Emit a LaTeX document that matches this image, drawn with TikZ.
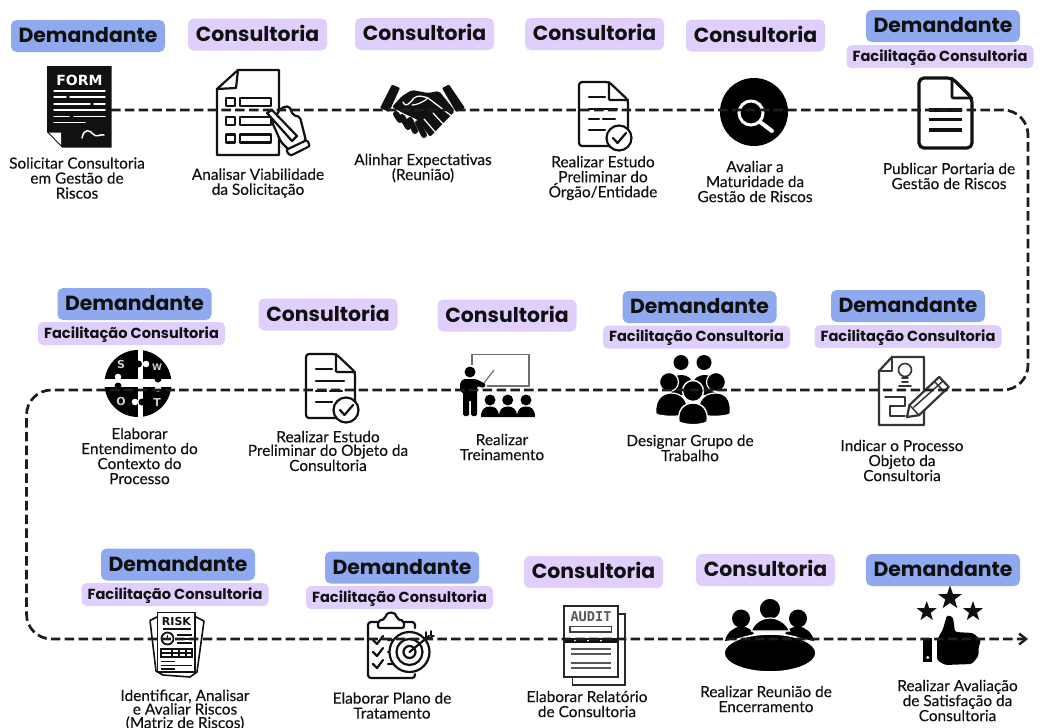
\documentclass[tikz,border=0pt]{standalone}
\usepackage{fontspec}
\setmainfont[FakeBold=0.2]{Lato}
\newfontfamily\badgefont{Poppins}
\newfontfamily\iconfont{DejaVu Sans}
\newfontfamily\iconmono{DejaVu Sans Mono}
\usetikzlibrary{arrows.meta,shapes.geometric}
\definecolor{ink}{HTML}{111111}
\definecolor{demcol}{HTML}{8FA9EE}
\definecolor{concol}{HTML}{E0CFFD}
\tikzset{
 badge/.style={rounded corners=5.5pt,inner sep=0pt,text=ink,font=\badgefont\bfseries\fontsize{20.4}{22}\selectfont,text height=14pt,text depth=1pt},
 demand/.style={badge,fill=demcol,minimum width=154pt,minimum height=32pt},
 consult/.style={badge,fill=concol,minimum width=139pt,minimum height=32pt},
 facil/.style={badge,fill=concol,minimum width=187pt,minimum height=23pt,rounded corners=5pt,font=\badgefont\bfseries\fontsize{14.6}{16}\selectfont,text height=10pt,text depth=1pt},
 caption/.style={align=center,inner sep=0pt,text=ink,font=\fontsize{15.4}{15}\selectfont},
 tight/.style={caption,font=\fontsize{15.4}{13.6}\selectfont},
 flow/.style={draw=ink!95,line width=2.7pt,dash pattern=on 9.5pt off 4.3pt,rounded corners=25pt},
 ol/.style={draw=ink,line width=2.2pt,line join=round,line cap=round},
 wl/.style={draw=white,line width=1.5pt,line cap=round},
 finger/.style={draw=ink,line width=6pt,line cap=round},
 starmark/.style={star,star points=5,star point ratio=2.5,fill=ink,inner sep=0pt},
 checkdoc/.pic={
  \draw[ol,fill=white,rounded corners=3pt] (30,0) -- (0,0) -- (0,64) -- (49,64) -- (49,18) -- cycle;
  \draw[ol,rounded corners=1pt] (30,0) -- (30,18) -- (49,18);
  \draw[ol] (10,15) -- (26,15) (10,27) -- (38,27) (10,37) -- (20,37) (24,37) -- (36,37) (10,48) -- (26,48);
  \draw[ol,fill=white] (40,56) circle (12.5);
  \draw[ol] (34,56) -- (38.5,61) -- (47,51);
 }
}
\begin{document}
\begin{tikzpicture}[x=1pt,y=-1pt]
\useasboundingbox (0,0) rectangle (1052,728);
\fill[white] (0,0) rectangle (1052,728);

% --- role badges ---
\node[demand] (d1) at (88,36) {Demandante};
\node[consult] (c2) at (257.5,34.5) {Consultoria};
\node[consult] (c3) at (424.5,34) {Consultoria};
\node[consult] (c4) at (594.5,34) {Consultoria};
\node[consult] (c5) at (755.5,35.5) {Consultoria};
\node[demand] (d6) at (943,26) {Demandante};
\node[facil] (f6) at (940,56.5) {Facilitação Consultoria};
\node[demand] (d11) at (134.5,304) {Demandante};
\node[facil] (f11) at (131.5,333.5) {Facilitação Consultoria};
\node[consult] (c10) at (328,314.5) {Consultoria};
\node[consult] (c9) at (507,315.5) {Consultoria};
\node[demand] (d8) at (699.5,307) {Demandante};
\node[facil] (f8) at (696.5,337) {Facilitação Consultoria};
\node[demand] (d7) at (908,306) {Demandante};
\node[facil] (f7) at (908,336.5) {Facilitação Consultoria};
\node[demand] (d12) at (178,564.5) {Demandante};
\node[facil] (f12) at (175,594.5) {Facilitação Consultoria};
\node[demand] (d13) at (402,567.5) {Demandante};
\node[facil] (f13) at (399.5,597.5) {Facilitação Consultoria};
\node[consult] (c14) at (593.5,572) {Consultoria};
\node[consult] (c15) at (765.5,570) {Consultoria};
\node[demand] (d16) at (943,570) {Demandante};

% --- captions ---
\node[caption] (t1) at (77,178) {Solicitar Consultoria\\em Gestão de\\Riscos};
\node[caption] (t2) at (258,183) {Analisar Viabilidade\\da Solicitação};
\node[caption] (t3) at (423,168) {Alinhar Expectativas\\(Reunião)};
\node[caption] (t4) at (603,178) {Realizar Estudo\\Preliminar do\\Órgão/Entidade};
\node[caption] (t5) at (755,181.5) {Avaliar a\\Maturidade da\\Gestão de Riscos};
\node[caption] (t6) at (949,176) {Publicar Portaria de\\Gestão de Riscos};
\node[caption] (t11) at (139.5,456) {Elaborar\\Entendimento do\\Contexto do\\Processo};
\node[tight] (t10) at (328,451) {Realizar Estudo\\Preliminar do Objeto da\\Consultoria};
\node[caption] (t9) at (502,447) {Realizar\\Treinamento};
\node[tight] (t8) at (690,448) {Designar Grupo de\\Trabalho};
\node[caption] (t7) at (902,460.5) {Indicar o Processo\\Objeto da\\Consultoria};
\node[tight] (t12) at (185,710) {Identificar, Analisar\\e Avaliar Riscos\\(Matriz de Riscos)};
\node[caption] (t13) at (392,705.5) {Elaborar Plano de\\Tratamento};
\node[caption] (t14) at (587,704) {Elaborar Relatório\\de Consultoria};
\node[caption] (t15) at (766,699) {Realizar Reunião de\\Encerramento};
\node[caption] (t16) at (957.5,700.5) {Realizar Avaliação\\de Satisfação da\\Consultoria};

% --- icon 1: form ---
\fill[ink] (47,66) -- (111.5,66) -- (111.5,147.5) -- (62,147.5) -- (47,132) -- cycle;
\fill[white] (49,132.5) -- (61,132.5) -- (61,145) -- cycle;
\node[text=white,inner sep=0pt,font=\iconfont\bfseries\fontsize{14}{14}\selectfont] (form) at (79.5,80) {FORM};
\draw[wl] (54,91) -- (105,91) (54,97) -- (66,97) (70,97) -- (105,97) (54,104) -- (90,104) (94,104) -- (105,104)
  (54,110) -- (105,110) (54,116.5) -- (69,116.5) (74,116.5) -- (105,116.5) (54,122.5) -- (85,122.5);
\draw[wl] (82,138) .. controls (84,128) and (90,130) .. (93,134) .. controls (96,138) and (100,134) .. (104,135);

% --- icon 2: form with hand ---
\draw[ol,fill=white] (238,70) -- (279,70) -- (279,155) -- (217,155) -- (217,89) -- cycle;
\draw[ol] (238,70) -- (236,88) -- (217,89);
\draw[ol] (226,98) rectangle (235,106) (240,98) rectangle (271,106)
  (226,117) rectangle (235,125) (240,117) rectangle (271,125)
  (226,134.5) rectangle (235,142.5) (240,134.5) rectangle (271,142.5);
\draw[ol,fill=white,rounded corners=2pt] (272,122) -- (281,108) -- (289,106) -- (293,115) -- (300,117) -- (306,141) -- (289,150) -- (281,142) -- cycle;
\draw[ol,fill=white] (267,113) -- (272,110) -- (297,136) -- (292,141) -- cycle;
\draw[ol,fill=white,rounded corners=2pt] (286,150) -- (307,140) -- (310,146) -- (290,156) -- cycle;

% --- icon 3: handshake ---
\fill[ink,rounded corners=1pt] (392,84.5) -- (400,88) -- (389,112) -- (380,108) -- cycle;
\fill[ink,rounded corners=1pt] (449,84.5) -- (442,88) -- (456,112) -- (465,108) -- cycle;
\fill[ink,rounded corners=2pt] (392,107) -- (402,96) -- (412,90) -- (428,93) -- (439,91) -- (455,111) -- (430,137) -- (418,120) -- (403,113) -- cycle;
\draw[finger] (396,114) -- (400,120);
\draw[finger] (402,117) -- (408,127);
\draw[finger] (410,120) -- (415,131);
\draw[finger] (418,123) -- (424,135);
\draw[white,line width=1.3pt,line cap=round,line join=round] (403,102) .. controls (406,108) and (409,104) .. (414,98) .. controls (418,95) and (422,96) .. (428,98) -- (453,117);
\draw[white,line width=1.2pt,line cap=round] (424,119) -- (436,133) (433,113) -- (444,125) (428,98) .. controls (422,103) and (416,105) .. (412,105);

% --- icon 4: document with check ---
\pic at (579,82) {checkdoc};

% --- icon 5: magnifier ---
\fill[black] (754,112) circle (34);
\draw[white,line width=3pt] (751,113) circle (12);
\draw[white,line width=4pt,line cap=round] (760,122) -- (772,131);

% --- icon 6: document ---
\draw[ol,line width=3.2pt,rounded corners=5pt] (952,78) -- (919,78) -- (919,148) -- (972,148) -- (972,98) -- cycle;
\draw[ol,line width=2.6pt,rounded corners=1pt] (952,78) -- (952,98) -- (972,98);
\draw[ol,line width=3.4pt,line cap=butt] (929,110) -- (962,110) (929,119.5) -- (962,119.5) (929,130) -- (962,130);

% --- icon 7: process document and pencil ---
\draw[ol,draw=ink!85] (892,357) -- (924,357) -- (924,425) -- (879,425) -- (879,371) -- cycle;
\draw[ol,draw=ink!85] (892,357) -- (892,371) -- (879,371);
\draw[ol,draw=ink!85,line width=1.6pt] (905,370) circle (6.5) (902,378) -- (908,378) (902,382) -- (908,382) (899,386) -- (911,386);
\draw[ol,draw=ink!85,line width=1.8pt] (885,397) -- (905,397) -- (905,406) -- (890,406) -- (890,416) -- (905,416);
\draw[ol,draw=ink!85,fill=white] (907,417) -- (909.5,405) -- (939.2,376.9) -- (948.8,387) -- (919,415.2) -- cycle;
\draw[ol,draw=ink!85,line width=1.5pt] (909.5,405) -- (919,415.2) (914,407) -- (943,381) (934.5,381.5) -- (944,391.5);

% --- icon 8: group ---
\fill[black] (681,362.5) circle (7.5) (704,362.5) circle (7.5);
\fill[black] (670,383) .. controls (672,372) and (692,372) .. (693,385) -- (693,395) -- (672,395) -- cycle;
\fill[black] (692,385) .. controls (694,372) and (714,372) .. (716,383) -- (714,395) -- (692,395) -- cycle;
\filldraw[black,draw=white,line width=1.2pt] (669,382) circle (9.5) (716,382) circle (9.5);
\filldraw[black,draw=white,line width=1.2pt] (656,414) .. controls (654,398) and (664,393) .. (671,393) .. controls (682,393) and (688,400) .. (688,414) .. controls (680,417) and (662,417) .. (656,414) -- cycle;
\filldraw[black,draw=white,line width=1.2pt] (698,414) .. controls (698,400) and (704,393) .. (716,393) .. controls (724,393) and (732,398) .. (730,414) .. controls (724,417) and (706,417) .. (698,414) -- cycle;
\filldraw[black,draw=white,line width=1.4pt] (693,391) circle (10.5);
\filldraw[black,draw=white,line width=1.4pt] (679,422) .. controls (677,410) and (684,403) .. (693,403) .. controls (702,403) and (709,410) .. (707,422) .. controls (700,425.5) and (686,425.5) .. (679,422) -- cycle;

% --- icon 9: training ---
\draw[draw=ink!60,line width=1.4pt] (472,365) -- (472,354.5) -- (529,354.5) -- (529,386) -- (487,386);
\fill[black] (470,372) circle (5.5);
\fill[black,rounded corners=1.5pt] (460,392) -- (460,383) -- (463,379) -- (476,379) -- (486,384) -- (484,388) -- (477,386) -- (477,416) -- (471,416) -- (471,400) -- (469,400) -- (469,416) -- (463,416) -- (463,392) -- cycle;
\draw[draw=ink!60,line width=1.2pt] (484,383) -- (494,370);
\fill[black] (490,400) circle (5.5) (507.7,400) circle (5.5) (526,400) circle (5.5);
\fill[black] (481,417) .. controls (481,408) and (486,406.5) .. (490,406.5) .. controls (494,406.5) and (499,408) .. (499,417) -- cycle
 (499,417) .. controls (499,408) and (504,406.5) .. (507.7,406.5) .. controls (512,406.5) and (517,408) .. (517,417) -- cycle
 (517,417) .. controls (517,408) and (522,406.5) .. (526,406.5) .. controls (530,406.5) and (535,408) .. (535,417) -- cycle;

% --- icon 10: document with check ---
\pic at (306,354) {checkdoc};

% --- icon 11: SWOT puzzle ---
\fill[black] (138,383.5) circle (33.5);
\fill[white] (138,348) rectangle (143,420);
\fill[white] (102,378.5) rectangle (174,387);
\fill[white] (146,364) circle (3.3) (118,377) circle (3.3) (158,388.5) circle (3.3) (135,402) circle (3.3);
\fill[black] (138.5,364) circle (3.5) (158,379) circle (3.5) (118,386) circle (3.5) (142,402) circle (3.5);
\node[text=black!20,inner sep=0pt,font=\iconfont\bfseries\fontsize{11}{11}\selectfont] (sw1) at (121,364) {S};
\node[text=black!20,inner sep=0pt,font=\iconfont\bfseries\fontsize{9}{9}\selectfont] (sw2) at (157,367) {W};
\node[text=black!20,inner sep=0pt,font=\iconfont\bfseries\fontsize{11}{11}\selectfont] (sw3) at (121,401) {O};
\node[text=black!20,inner sep=0pt,font=\iconfont\bfseries\fontsize{11}{11}\selectfont] (sw4) at (157,402) {T};

% --- icon 12: risk matrix ---
\draw[ol,line width=1.6pt,fill=white] (157,617) -- (150,620.5) -- (156,671) -- (163,675) -- (190,677) -- (197,672) -- (204,621) -- (196,617) -- cycle;
\draw[ol,line width=1.6pt,fill=white] (157.5,612.5) rectangle (195,672);
\node[inner sep=0pt,text=ink,font=\iconfont\bfseries\fontsize{11}{11}\selectfont] (riskt) at (176.5,621) {RISK};
\draw[ink,line width=1.4pt] (163,629) -- (191,629);
\filldraw[draw=ink,fill=white,line width=1.8pt] (167.5,638.5) circle (6);
\draw[ink,line width=1.2pt] (167.5,634.5) -- (167.5,639) -- (171,639);
\draw[ink,line width=1.2pt] (177,635) -- (192,635) (177,639) -- (190,639) (177,643) -- (192,643);
\draw[ink,line width=1.2pt] (161,649) rectangle (192,657) (161,653) -- (192,653) (172,649) -- (172,657) (179,649) -- (179,657) (186,649) -- (186,657);
\draw[ink,line width=1.2pt] (161,661.5) -- (175,661.5) (161,665.5) -- (192,665.5) (161,669) -- (175,669);

% --- icon 13: plan clipboard ---
\draw[ol,rounded corners=3pt] (415,628) -- (415,622) -- (368,622) -- (368,678) -- (415,678) -- (415,674);
\draw[ol,fill=white,rounded corners=2pt] (378,628) -- (378,621) -- (385,619) .. controls (386,611) and (396,611) .. (397,619) -- (404,621) -- (404,628) -- cycle;
\draw[ol] (373,640) -- (377,644) -- (383,636) (388,640) -- (394,640)
  (373,652) -- (377,656) -- (383,648) (388,652) -- (392,652)
  (373,664) -- (377,668) -- (383,660) (388,664) -- (394,664);
\draw[ol,fill=white] (409.5,652) circle (20);
\draw[ol] (409.5,652) circle (13);
\draw[ol] (409.5,652) circle (6);
\draw[ol] (409.5,652) -- (429,636);
\draw[ol,line width=1.6pt] (426,632) -- (426,638) -- (432,638) (431,631) -- (431,636) -- (434,636);

% --- icon 14: audit pages ---
\draw[draw=ink!90,line width=1.7pt,fill=white] (572.5,614) rectangle (625,685);
\draw[draw=ink!90,line width=1.7pt,fill=white] (564,606) rectangle (618,677);
\node[inner sep=0pt,text=ink!70,font=\iconmono\bfseries\fontsize{13.6}{14}\selectfont] (audt) at (591,616.5) {AUDIT};
\draw[draw=ink!80,line width=1.3pt] (570,626.5) rectangle (611.5,632);
\fill[ink] (565,638) rectangle (617,643);
\fill[white] (575,640.5) circle (1) (588,640.5) circle (1) (601,640.5) circle (1);
\draw[draw=ink!70,line width=1.5pt] (571,649) -- (611,649) (571,654) -- (611,654) (571,663) -- (611,663) (571,668) -- (611,668);

% --- icon 15: meeting ---
\fill[black] (741,618.5) circle (9) (798,618.5) circle (9);
\fill[black] (725,641) .. controls (727,632) and (733,628) .. (741,626) .. controls (748,627) and (752,630) .. (754,634) -- (740,638) -- cycle;
\fill[black] (814,641) .. controls (812,632) and (806,628) .. (798,626) .. controls (791,627) and (787,630) .. (785,634) -- (799,638) -- cycle;
\filldraw[black,draw=white,line width=1.2pt] (770,609) circle (10.8);
\filldraw[black,draw=white,line width=1.2pt] (751.5,631) .. controls (753,624) and (761,618) .. (770,618) .. controls (779,618) and (787,624) .. (789.5,631) -- cycle;
\filldraw[black,draw=white,line width=1.6pt] (770,653) ellipse (46 and 19);

% --- icon 16: rating ---
\node[starmark,minimum size=25pt] (star1) at (950,598) {};
\node[starmark,minimum size=21pt] (star2) at (926.7,611.5) {};
\node[starmark,minimum size=21pt] (star3) at (973,611.5) {};
\fill[black] (922.5,638) rectangle (932,662);
\fill[white] (927.7,657.5) circle (1.6);
\fill[black,rounded corners=2.5pt] (937,640) -- (943,629) -- (947,615) -- (953,617) -- (955,632) -- (973,633) -- (981,640) -- (978.5,648) -- (978.5,656) -- (972,664) -- (945,665) -- (937,660) -- cycle;

% --- flow path ---
\coordinate (i1) at (111,110);
\coordinate (i2) at (248,110);
\coordinate (i3) at (423,110);
\coordinate (i4) at (603,110);
\coordinate (i5) at (754,110);
\coordinate (i6) at (945,110);
\coordinate (k1) at (1028,110);
\coordinate (k2) at (1028,390);
\coordinate (i7) at (902,390);
\coordinate (i8) at (693,390);
\coordinate (i9) at (500,390);
\coordinate (i10) at (330,390);
\coordinate (i11) at (139,390);
\coordinate (k3) at (26.5,390);
\coordinate (k4) at (26.5,639);
\coordinate (i12) at (176,639);
\coordinate (i13) at (400,639);
\coordinate (i14) at (591,639);
\coordinate (i15) at (769,639);
\coordinate (i16) at (950,639);
\coordinate (endp) at (1028,639);
\path[flow,-{Straight Barb[length=7pt,width=11pt,line width=2.4pt]}] (i1) -- (i2) -- (i3) -- (i4) -- (i5) -- (i6) -- (k1) -- (k2) -- (i7) -- (i8) -- (i9) -- (i10) -- (i11) -- (k3) -- (k4) -- (i12) -- (i13) -- (i14) -- (i15) -- (i16) -- (endp);
\end{tikzpicture}
\end{document}
